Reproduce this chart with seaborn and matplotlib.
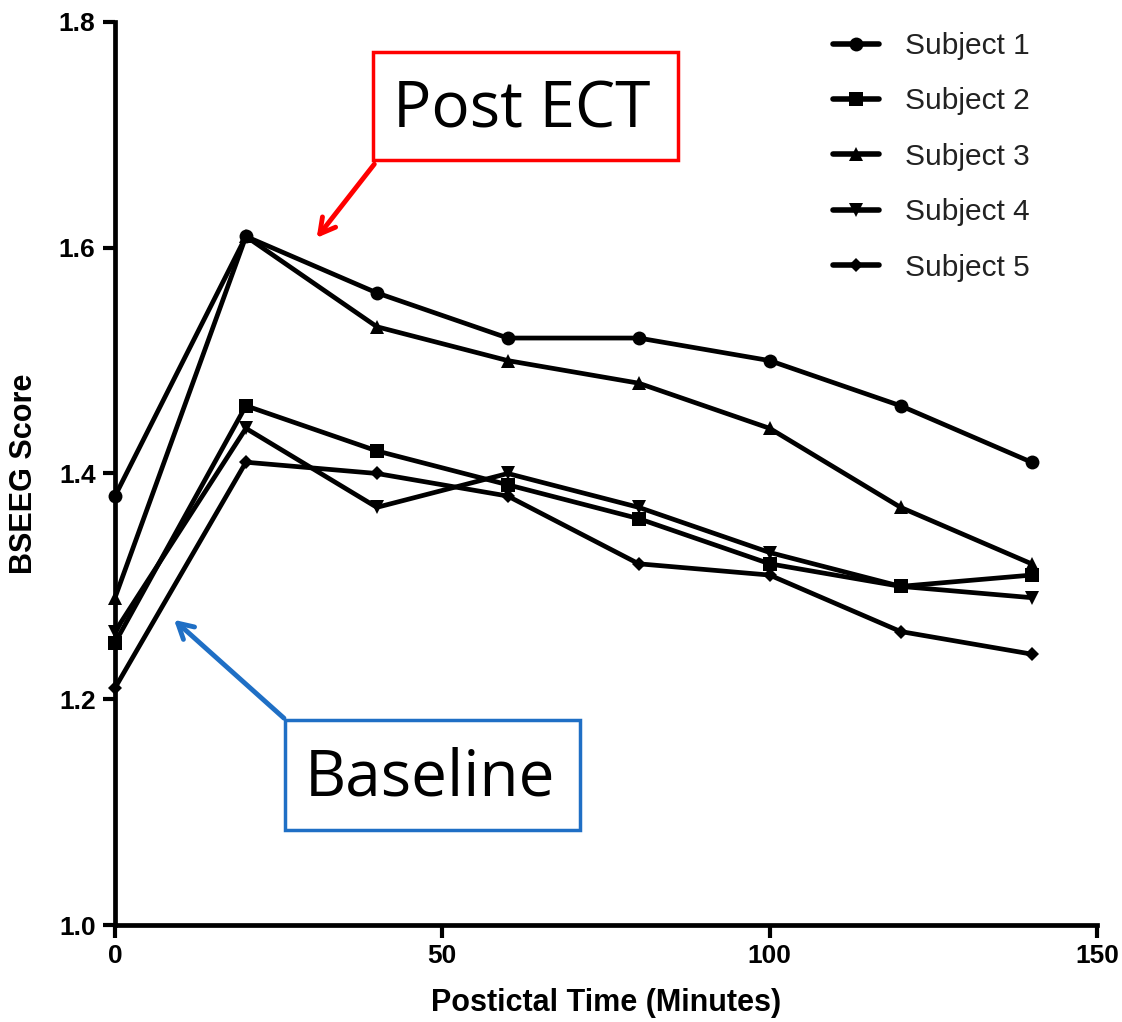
import matplotlib
matplotlib.use("Agg")
import matplotlib.pyplot as plt
import seaborn as sns
import pandas as pd
from matplotlib.patches import Rectangle

sns.set_theme(style="ticks")
plt.rcParams['font.family'] = ['Liberation Sans', 'DejaVu Sans']
plt.rcParams.update({"text.color": "black", "axes.labelcolor": "black",
                     "xtick.color": "black", "ytick.color": "black"})

times = [0, 20, 40, 60, 80, 100, 120, 140]
subject1 = [1.38, 1.61, 1.56, 1.52, 1.52, 1.50, 1.46, 1.41]
subject2 = [1.25, 1.46, 1.42, 1.39, 1.36, 1.32, 1.30, 1.31]
subject3 = [1.29, 1.61, 1.53, 1.50, 1.48, 1.44, 1.37, 1.32]
subject4 = [1.26, 1.44, 1.37, 1.40, 1.37, 1.33, 1.30, 1.29]
subject5 = [1.21, 1.41, 1.40, 1.38, 1.32, 1.31, 1.26, 1.24]
labels = ["Subject 1", "Subject 2", "Subject 3", "Subject 4", "Subject 5"]
series = [subject1, subject2, subject3, subject4, subject5]
xticks = [0, 50, 100, 150]
yticks = [1.0, 1.2, 1.4, 1.6, 1.8]
ytick_labels = ["1.0", "1.2", "1.4", "1.6", "1.8"]

rows = []
for lab, vals in zip(labels, series):
    for t, v in zip(times, vals):
        rows.append({"Time": t, "Score": v, "Subject": lab})
df = pd.DataFrame(rows)

fig = plt.figure(figsize=(11.22, 10.22), dpi=100)
ax = fig.add_axes([0.1025, 0.0949, 0.8752, 0.8836])

markers = {"Subject 1": "o", "Subject 2": "s", "Subject 3": "^",
           "Subject 4": "v", "Subject 5": "D"}
msizes = {"Subject 1": 10, "Subject 2": 10, "Subject 3": 10,
          "Subject 4": 10, "Subject 5": 7}
sns.lineplot(data=df, x="Time", y="Score", style="Subject", markers=markers,
             dashes=False, color="black", linewidth=3.4, markersize=10,
             markeredgewidth=0, ax=ax, legend="full")
for line, lab in zip(ax.get_lines(), labels):
    line.set_markersize(msizes[lab])
    line.set_clip_on(False)

ax.set_xlim(0, 150)
ax.set_ylim(1.0, 1.8)
ax.set_xticks(xticks)
ax.set_xticklabels([str(t) for t in xticks], fontweight="bold", fontsize=19)
ax.set_yticks(yticks)
ax.set_yticklabels(ytick_labels, fontweight="bold", fontsize=19)
ax.set_xlabel("Postictal Time (Minutes)", fontsize=22, fontweight="bold", labelpad=14)
ax.set_ylabel("BSEEG Score", fontsize=22, fontweight="bold", labelpad=14)
ax.tick_params(axis="both", width=3, length=9, direction="out", color="black", pad=5)
sns.despine(ax=ax)
for s in ["left", "bottom"]:
    ax.spines[s].set_linewidth(3.4)
    ax.spines[s].set_color("black")
    ax.spines[s].set_clip_on(False)

W, H = 1122, 1022
def fx(px):
    return px / W
def fy(py):
    return 1 - py / H

handles, leg_labels = ax.get_legend_handles_labels()
leg = ax.legend(handles, leg_labels, loc="upper left",
                bbox_to_anchor=(fx(833), fy(32)), bbox_transform=fig.transFigure,
                frameon=False, labelspacing=0.92, handlelength=1.55,
                handletextpad=0.85, borderpad=0, borderaxespad=0,
                prop={"family": ["Liberation Sans"], "size": 21.5})
for h, lab in zip(leg.legend_handles, leg_labels):
    h.set_linewidth(4)
    h.set_color("black")
    h.set_markersize(msizes[lab])
for t in leg.get_texts():
    t.set_color("#222222")

# Post ECT box
fig.patches.append(Rectangle((fx(373), fy(160)), fx(678) - fx(373), fy(52) - fy(160),
                             transform=fig.transFigure, fill=False, edgecolor="#ff0000",
                             linewidth=2.5))
fig.text(fx(522), fy(110), "Post ECT", ha="center", va="center", fontsize=46,
         family=["Open Sans", "DejaVu Sans"], color="black")
fig.patches.append(Rectangle((fx(285), fy(830)), fx(580) - fx(285), fy(720) - fy(830),
                             transform=fig.transFigure, fill=False, edgecolor="#1f6fc5",
                             linewidth=2.5))
fig.text(fx(430), fy(778), "Baseline", ha="center", va="center", fontsize=46,
         family=["Open Sans", "DejaVu Sans"], color="black")

ax.annotate("", xy=(fx(315), fy(240)), xycoords="figure fraction",
            xytext=(fx(376), fy(162)), textcoords="figure fraction",
            arrowprops=dict(arrowstyle="->,head_length=0.9,head_width=0.5",
                            color="#ff0000", lw=3.5))
ax.annotate("", xy=(fx(172), fy(618)), xycoords="figure fraction",
            xytext=(fx(286), fy(720)), textcoords="figure fraction",
            arrowprops=dict(arrowstyle="->,head_length=0.9,head_width=0.5",
                            color="#1f6fc5", lw=3.5))

fig.savefig("out.png", dpi=100)
